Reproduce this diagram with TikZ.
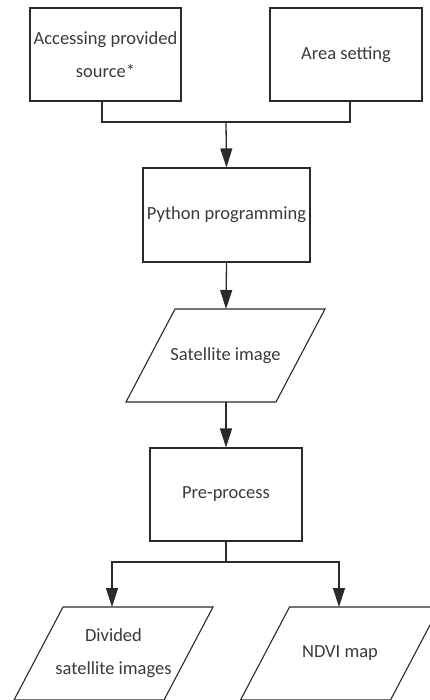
\documentclass[tikz,border=0pt]{standalone}
\usepackage{fontspec}
\setmainfont{Carlito}
\usetikzlibrary{arrows.meta}
\definecolor{txt}{HTML}{3A3A3A}
\definecolor{ln}{HTML}{2A2A2A}
\newcommand{\paral}[1]{%
  \draw[link] ([shift={(-50.5,-46.5)}]#1.center) -- ([shift={(99.5,-46.5)}]#1.center)
    -- ([shift={(50.5,46.5)}]#1.center) -- ([shift={(-99.5,46.5)}]#1.center) -- cycle;}
\begin{document}
\begin{tikzpicture}[x=1pt,y=-1pt,
  box/.style={draw=ln,line width=1.1pt,rectangle,inner sep=0pt,align=center,
    text=txt,font=\fontsize{18.5}{33}\selectfont},
  ptext/.style={inner sep=0pt,align=center,text=txt,font=\fontsize{18.5}{33}\selectfont},
  link/.style={draw=ln,line width=1.1pt},
  arr/.style={link,line width=1.3pt,-{Triangle[length=19pt,width=12pt]}}]
\useasboundingbox (0,0) rectangle (430,700);
\clip (0,0) rectangle (430,700);
\node[box,minimum width=151pt,minimum height=93pt] (b1) at (105.5,54.5) {Accessing provided\\source*};
\node[box,minimum width=152pt,minimum height=93pt] (b2) at (346,54.5) {Area setting};
\node[box,minimum width=167pt,minimum height=94pt] (b3) at (226.5,215) {Python programming};
\node[ptext] (p1) at (225.5,355.5) {Satellite image};
\node[box,minimum width=152pt,minimum height=93pt] (b4) at (226,494.5) {Pre-process};
\node[ptext] (p2) at (113.5,653.5) {Divided\\satellite images};
\node[ptext] (p3) at (340,653.5) {NDVI map};
\paral{p1}
\paral{p2}
\paral{p3}
\coordinate (p1t) at (226,309);
\coordinate (p1b) at (226,402);
\coordinate (p2t) at (112,607);
\coordinate (p3t) at (339,607);
\coordinate (s1) at (102,101);
\coordinate (s2) at (350,101);
\coordinate (j1) at (226,122);
\coordinate (j2) at (226,562);
\draw[link] (s1) |- (j1) -| (s2);
\draw[arr] (j1) -- (b3.north);
\draw[arr] (b3.south) -- (p1t);
\draw[arr] (p1b) -- (b4.north);
\draw[link] (b4.south) -- (j2);
\draw[arr] (j2) -| (p2t);
\draw[arr] (j2) -| (p3t);
\end{tikzpicture}
\end{document}
